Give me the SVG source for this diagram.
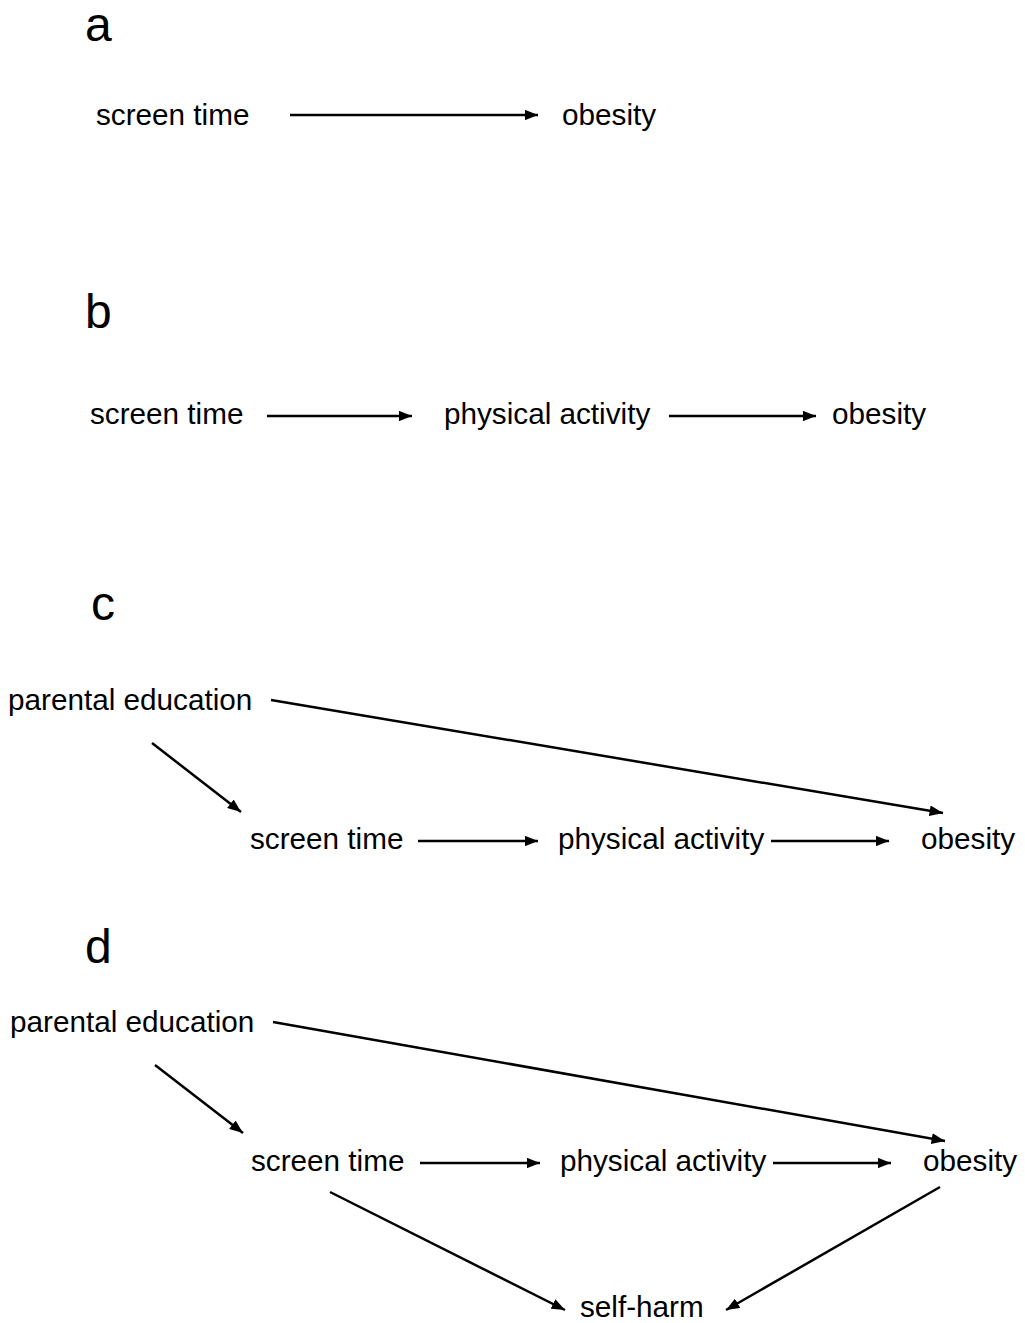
<svg xmlns="http://www.w3.org/2000/svg" width="1025" height="1323" viewBox="0 0 1025 1323">
<style>
text{font-family:"Liberation Sans",Arial,sans-serif;fill:#000}
.t{font-size:29.7px}
.lab{font-size:48px}
.e{stroke:#000;stroke-width:2.5;fill:none;marker-end:url(#ah)}
</style>
<defs>
<marker id="ah" viewBox="0 0 10 8" refX="10" refY="4" markerWidth="5.4" markerHeight="4.3" orient="auto" markerUnits="strokeWidth">
<path d="M0,0 L10,4 L0,8 z" fill="#000"/>
</marker>
</defs>
<rect width="1025" height="1323" fill="#fff"/>
<g id="panel-a">
<text class="lab" x="85" y="41">a</text>
<g id="a-screen"><text class="t" x="96" y="125">screen time</text></g>
<g id="a-obesity"><text class="t" x="562" y="125">obesity</text></g>
</g>
<g id="panel-b">
<text class="lab" x="85" y="328">b</text>
<g id="b-screen"><text class="t" x="90" y="424">screen time</text></g>
<g id="b-pa"><text class="t" x="444" y="424">physical activity</text></g>
<g id="b-obesity"><text class="t" x="832" y="424">obesity</text></g>
</g>
<g id="panel-c">
<text class="lab" x="91" y="620">c</text>
<g id="c-parent"><text class="t" x="8" y="710">parental education</text></g>
<g id="c-screen"><text class="t" x="250" y="849">screen time</text></g>
<g id="c-pa"><text class="t" x="558" y="849">physical activity</text></g>
<g id="c-obesity"><text class="t" x="921" y="849">obesity</text></g>
</g>
<g id="panel-d">
<text class="lab" x="85" y="963">d</text>
<g id="d-parent"><text class="t" x="10" y="1032">parental education</text></g>
<g id="d-screen"><text class="t" x="251" y="1171">screen time</text></g>
<g id="d-pa"><text class="t" x="560" y="1171">physical activity</text></g>
<g id="d-obesity"><text class="t" x="923" y="1171">obesity</text></g>
<g id="d-selfharm"><text class="t" x="580" y="1317">self-harm</text></g>
</g>
<g id="connectors">
<line class="e" x1="290" y1="115" x2="538" y2="115"/>
<line class="e" x1="267" y1="416" x2="412" y2="416"/>
<line class="e" x1="669" y1="416" x2="816" y2="416"/>
<line class="e" x1="271" y1="700" x2="943" y2="813"/>
<line class="e" x1="152" y1="743" x2="241" y2="812"/>
<line class="e" x1="418" y1="841" x2="538" y2="841"/>
<line class="e" x1="771" y1="841" x2="889" y2="841"/>
<line class="e" x1="273" y1="1022" x2="945" y2="1141"/>
<line class="e" x1="155" y1="1065" x2="243" y2="1133"/>
<line class="e" x1="420" y1="1163" x2="540" y2="1163"/>
<line class="e" x1="773" y1="1163" x2="891" y2="1163"/>
<line class="e" x1="330" y1="1192" x2="565" y2="1310"/>
<line class="e" x1="940" y1="1187" x2="726" y2="1310"/>
</g>
</svg>
